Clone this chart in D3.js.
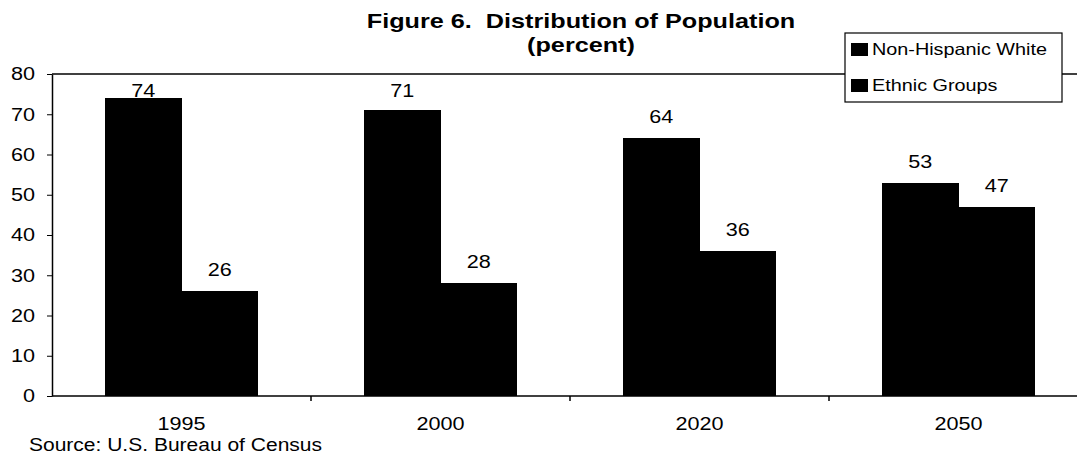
<!DOCTYPE html>
<html>
<head>
<meta charset="utf-8">
<script src="https://cdn.jsdelivr.net/npm/d3@7"></script>
<style>
	body { margin: 0; background: #fff; }
	svg { display: block; font-family: "Liberation Sans", Arial, sans-serif; }
</style>
</head>
<body>
<svg id="chart" width="1077" height="458"></svg>
<script>
//chart values
var years = ["1995", "2000", "2020", "2050"];
var seriesNames = ["Non-Hispanic White", "Ethnic Groups"];
var nonHispanicWhite = [74, 71, 64, 53];
var ethnicGroups = [26, 28, 36, 47];
var yTicks = [0, 10, 20, 30, 40, 50, 60, 70, 80];
var titleLines = ["Figure 6.  Distribution of Population", "(percent)"];
var sourceNote = "Source: U.S. Bureau of Census";

//the scan is wider than normal Arial, so every text is stretched a bit
var STRETCH = 1.2;
function stretch(sel){
	sel.each(function(){
		var w = this.getComputedTextLength();
		this.setAttribute("textLength", w * STRETCH);
		this.setAttribute("lengthAdjust", "spacingAndGlyphs");
	});
}

var svg = d3.select("#chart");

//note: "top" is taken by window.top, so plot edges get their own names
var plotLeft = 52, plotTop = 74, plotBottom = 396, step = 259;
var plotRight = plotLeft + step * years.length;

//one row per year, both series side by side
var rows = years.map(function(y, i){
	return {year: y, values: [nonHispanicWhite[i], ethnicGroups[i]]};
});

var x0 = d3.scaleBand()
	.domain(years)
	.range([plotLeft, plotRight])
	.paddingInner(0.41)
	.paddingOuter(0.205);

var x1 = d3.scaleBand()
	.domain(seriesNames)
	.range([0, x0.bandwidth()]);

var y = d3.scaleLinear()
	.domain([0, 80])
	.range([plotBottom, plotTop]);

//top edge of the plot area
svg.append("line")
	.attr("x1", plotLeft)
	.attr("x2", plotRight)
	.attr("y1", plotTop)
	.attr("y2", plotTop)
	.attr("stroke", "#000")
	.attr("stroke-width", 1.5);

//bars
var groups = svg.selectAll("g.year")
	.data(rows)
	.enter()
	.append("g")
	.attr("class", "year")
	.attr("transform", function(d){ return "translate(" + x0(d.year) + ",0)"; });

function pairs(d){
	return d.values.map(function(v, i){ return {name: seriesNames[i], value: v}; });
}

//crispEdges so the two black bars join without a seam
groups.selectAll("rect")
	.data(pairs)
	.enter()
	.append("rect")
	.attr("x", function(d){ return x1(d.name); })
	.attr("y", function(d){ return y(d.value); })
	.attr("width", x1.bandwidth() + 0.5)
	.attr("height", function(d){ return plotBottom - y(d.value); })
	.attr("fill", "#000")
	.attr("shape-rendering", "crispEdges");

//value labels, pushed down when they would leave the plot
groups.selectAll("text")
	.data(pairs)
	.enter()
	.append("text")
	.attr("x", function(d){ return x1(d.name) + x1.bandwidth() / 2; })
	.attr("y", function(d){ return Math.max(y(d.value) - 15, plotTop + 23); })
	.attr("text-anchor", "middle")
	.style("font-size", "18px")
	.text(function(d){ return d.value; })
	.call(stretch);

//y axis
var yAxis = d3.axisLeft(y)
	.tickValues(yTicks)
	.tickSize(5)
	.tickSizeOuter(0)
	.tickPadding(12);

var yG = svg.append("g")
	.attr("transform", "translate(" + plotLeft + ",0)")
	.call(yAxis);
yG.select(".domain").attr("stroke-width", 1.5);
yG.selectAll("text")
	.style("font-size", "18px")
	.style("font-family", "inherit")
	.attr("fill", "#000")
	.call(stretch);

//x axis, labels in the middle of each year
var xAxis = d3.axisBottom(x0)
	.tickSize(0)
	.tickSizeOuter(0)
	.tickPadding(21);

var xG = svg.append("g")
	.attr("transform", "translate(0," + plotBottom + ")")
	.call(xAxis);
xG.select(".domain")
	.attr("d", "M" + plotLeft + ",0H" + plotRight)
	.attr("stroke-width", 1.5);
xG.selectAll("text")
	.style("font-size", "18px")
	.style("font-family", "inherit")
	.attr("fill", "#000")
	.call(stretch);

//small ticks between the years
xG.selectAll("line.sep")
	.data(d3.range(1, years.length))
	.enter()
	.append("line")
	.attr("class", "sep")
	.attr("x1", function(i){ return plotLeft + i * x0.step(); })
	.attr("x2", function(i){ return plotLeft + i * x0.step(); })
	.attr("y1", 0)
	.attr("y2", 5)
	.attr("stroke", "#000")
	.attr("stroke-width", 1.5);

//title
svg.selectAll("text.title")
	.data(titleLines)
	.enter()
	.append("text")
	.attr("class", "title")
	.attr("x", 581)
	.attr("y", function(d, i){ return 28 + i * 24; })
	.attr("text-anchor", "middle")
	.style("font-size", "21px")
	.style("font-weight", "bold")
	.style("white-space", "pre")
	.text(function(d){ return d; })
	.call(stretch);

//source note
svg.append("text")
	.attr("x", 29)
	.attr("y", 451)
	.style("font-size", "17.5px")
	.text(sourceNote)
	.call(stretch);

//legend
var legend = svg.append("g").attr("transform", "translate(845,33)");

legend.append("rect")
	.attr("width", 217)
	.attr("height", 69)
	.attr("fill", "#fff")
	.attr("stroke", "#000")
	.attr("stroke-width", 1.2);

var items = legend.selectAll("g.item")
	.data(seriesNames)
	.enter()
	.append("g")
	.attr("class", "item")
	.attr("transform", function(d, i){ return "translate(0," + (i * 36) + ")"; });

items.append("rect")
	.attr("x", 6)
	.attr("y", 10)
	.attr("width", 17)
	.attr("height", 13)
	.attr("fill", "#000");

items.append("text")
	.attr("x", 27)
	.attr("y", 22)
	.style("font-size", "16.5px")
	.text(function(d){ return d; })
	.call(stretch);
</script>
</body>
</html>
